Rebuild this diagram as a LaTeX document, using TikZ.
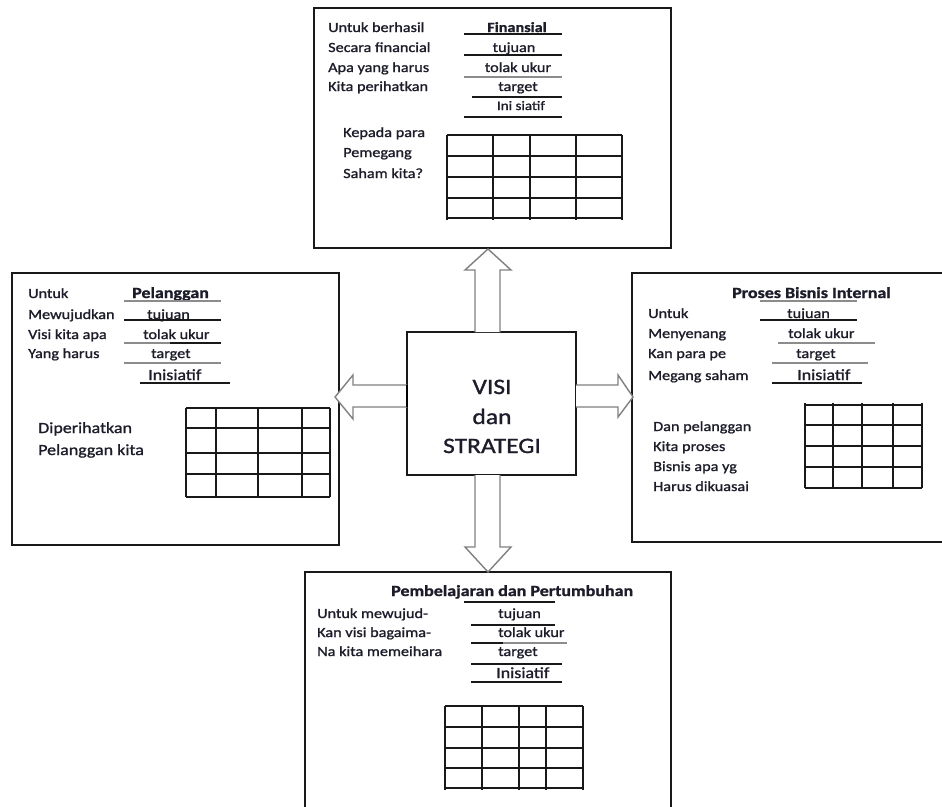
\documentclass[tikz,border=0pt]{standalone}
\usepackage{fontspec}
\setmainfont{Carlito}[FakeStretch=1.16, FakeBold=1.2]
\usetikzlibrary{calc}
\definecolor{inkc}{HTML}{1C1C2A}
\tikzset{
  boxnode/.style={draw=black!90, line width=1.5pt, inner sep=0pt, outer sep=0pt, anchor=north west},
  txt/.style={font=\fontsize{14}{16}\selectfont, inner sep=0pt, anchor=base west, text=inkc},
  txtbig/.style={font=\fontsize{15.5}{17}\selectfont, inner sep=0pt, anchor=base west, text=inkc},
  txthead/.style={font=\fontsize{15.5}{17}\selectfont\bfseries, inner sep=0pt, anchor=base west, text=inkc},
  txtsmall/.style={font=\fontsize{13}{14}\selectfont, inner sep=0pt, anchor=base, text=inkc},
  txtc/.style={font=\fontsize{14}{16}\selectfont, inner sep=0pt, anchor=base, text=inkc},
  uline/.style={line width=1.3pt, black!90},
  gline/.style={line width=1.3pt, black!45},
  gridline/.style={line width=1.3pt, black!90},
  barrow/.style={draw=black!50, line width=1.4pt, fill=white, line join=miter},
  bigtxt/.style={font=\fontsize{22}{29}\selectfont, inner sep=0pt, anchor=base, text=inkc},
}
\begin{document}
\begin{tikzpicture}[x=1pt,y=-1pt]
\useasboundingbox (0,0) rectangle (942,806);
\clip (0,0) rectangle (942,806);

% ---------- boxes ----------
\node[boxnode, minimum width=357pt, minimum height=240pt] (fin) at (314,8) {};
\node[boxnode, minimum width=327pt, minimum height=272pt] (pel) at (12,273) {};
\node[boxnode, minimum width=330pt, minimum height=269pt] (pro) at (632,273) {};
\node[boxnode, minimum width=366pt, minimum height=260pt] (pem) at (305,572) {};
\node[boxnode, minimum width=169pt, minimum height=143pt] (ctr) at (407,332) {};

% ---------- centre text ----------
\node[bigtxt] (v1) at (492,394) {VISI};
\node[bigtxt] (v2) at (492,424) {dan};
\node[bigtxt] (v3) at (492,453) {STRATEGI};

% ---------- block arrows ----------
\coordinate (upS) at (488,332);
\coordinate (upT) at (488,249);
\draw[barrow] (upS) ++(-13,0) -- ++(0,-62) -- ++(-10,0) -- (upT) -- ++(23,21) -- ++(-11,0) -- ++(0,62);

\coordinate (dnS) at (488,475);
\coordinate (dnT) at (488,572);
\draw[barrow] (dnS) ++(-13,0) -- ++(0,72) -- ++(-10,0) -- (dnT) -- ++(23,-25) -- ++(-11,0) -- ++(0,-72);

\coordinate (lfS) at (407,396);
\coordinate (lfT) at (335,397);
\draw[barrow] (lfS) ++(0,-11) -- ++(-54,0) -- ++(0,-10) -- (lfT) -- ++(18,22) -- ++(0,-12) -- ++(54,0);

\coordinate (rtS) at (576,396);
\coordinate (rtT) at (633,397);
\draw[barrow] (rtS) ++(0,-11) -- ++(42,0) -- ++(0,-10) -- (rtT) -- ++(-15,20) -- ++(0,-10) -- ++(-42,0);
\draw[line width=2.2pt, black] (407,385) -- (407,407);

% ---------- top box: Finansial ----------
\node[txt] (f1) at (328,32) {Untuk berhasil};
\node[txt] (f2) at (328,52) {Secara financial};
\node[txt] (f3) at (328,72) {Apa yang harus};
\node[txt] (f4) at (328,91) {Kita perihatkan};
\node[txtc, font=\fontsize{14}{16}\selectfont\bfseries] (fh) at (517,32) {Finansial};
\node[txtc] (fa) at (514,52) {tujuan};
\node[txtc] (fb) at (518,72) {tolak ukur};
\node[txtc] (fc) at (518,91) {target};
\node[txtsmall] (fd) at (521,110) {Ini siatif};
\draw[uline] (464,34) -- (562,34);
\draw[uline] (464,55) -- (562,55);
\draw[gline] (464,77) -- (562,77);
\draw[uline] (472,97) -- (562,97);
\draw[uline] (464,117) -- (562,117);
\node[txt] (f5) at (343,137) {Kepada para};
\node[txt] (f6) at (343,157) {Pemegang};
\node[txt] (f7) at (343,178) {Saham kita?};
\foreach \x in {447,493,530,576,622} \draw[gridline] (\x,135) -- (\x,220);
\foreach \y in {135,156,177,198,218} \draw[gridline] (447,\y) -- (622,\y);

% ---------- left box: Pelanggan ----------
\node[txt] (p1) at (28,298) {Untuk};
\node[txt] (p2) at (28,319) {Mewujudkan};
\node[txt] (p3) at (28,339) {Visi kita apa};
\node[txt] (p4) at (28,358) {Yang harus};
\node[txthead] (ph) at (132,298) {Pelanggan};
\node[txt] (pa) at (147,319) {tujuan};
\node[txt] (pb) at (143,339) {tolak ukur};
\node[txt] (pc) at (151,358) {target};
\node[txtbig] (pd) at (148,380) {Inisiatif};
\draw[gline] (124,301) -- (221,301);
\draw[uline] (124,320) -- (221,320);
\draw[gline] (124,343) -- (170,343);
\draw[uline] (170,343) -- (221,343);
\draw[gline] (124,363) -- (221,363);
\draw[uline] (140,383) -- (230,383);
\node[txtbig] (p5) at (38,433) {Diperihatkan};
\node[txtbig] (p6) at (38,455) {Pelanggan kita};
\foreach \x in {186,216,258,302,330} \draw[gridline] (\x,408) -- (\x,497);
\foreach \y in {408,428,453,474,497} \draw[gridline] (186,\y) -- (330,\y);

% ---------- right box: Proses Bisnis Internal ----------
\node[txthead] (rh) at (732,298) {Proses Bisnis Internal};
\node[txt] (r1) at (648,318) {Untuk};
\node[txt] (r2) at (648,338) {Menyenang};
\node[txt] (r3) at (648,358) {Kan para pe};
\node[txt] (r4) at (648,380) {Megang saham};
\node[txt] (ra) at (787,318) {tujuan};
\node[txt] (rb) at (788,338) {tolak ukur};
\node[txt] (rc) at (796,358) {target};
\node[txtbig] (rd) at (797,380) {Inisiatif};
\draw[gline] (760,301) -- (857,301);
\draw[uline] (760,320) -- (857,320);
\draw[gline] (778,343) -- (875,343);
\draw[gline] (772,363) -- (868,363);
\draw[uline] (772,383) -- (862,383);
\node[txt] (r5) at (653,431) {Dan pelanggan};
\node[txt] (r6) at (653,451) {Kita proses};
\node[txt] (r7) at (653,471) {Bisnis apa yg};
\node[txt] (r8) at (653,491) {Harus dikuasai};
\foreach \x in {805,833,862,893,922} \draw[gridline] (\x,403) -- (\x,488);
\foreach \y in {405,425,446,467,488} \draw[gridline] (805,\y) -- (922,\y);

% ---------- bottom box: Pembelajaran dan Pertumbuhan ----------
\node[txthead] (bh) at (391,596) {Pembelajaran dan Pertumbuhan};
\node[txt] (b1) at (317,618) {Untuk mewujud-};
\node[txt] (b2) at (317,637) {Kan visi bagaima-};
\node[txt] (b3) at (317,656) {Na kita memeihara};
\node[txt] (ba) at (498,618) {tujuan};
\node[txt] (bb) at (498,637) {tolak ukur};
\node[txt] (bc) at (498,656) {target};
\node[txtbig] (bd) at (496,678) {Inisiatif};
\draw[uline] (464,602) -- (555,602);
\draw[uline] (471,625) -- (555,625);
\draw[uline] (471,643) -- (503,643);
\draw[gline] (503,643) -- (567,643);
\draw[uline] (471,664) -- (562,664);
\draw[uline] (471,682) -- (562,682);
\foreach \x in {445,482,519,546,583} \draw[gridline] (\x,706) -- (\x,790);
\foreach \y in {706,727,748,768,788} \draw[gridline] (445,\y) -- (583,\y);
\end{tikzpicture}
\end{document}
